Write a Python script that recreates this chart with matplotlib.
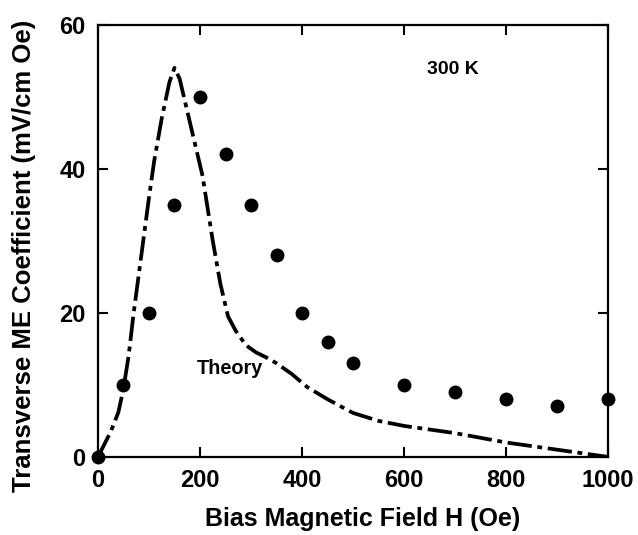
import matplotlib.pyplot as plt

# measured ME coefficient (dots)
field_exp = [0, 50, 100, 150, 200, 250, 300, 350, 400, 450, 500, 600, 700, 800, 900, 1000]
me_exp = [0, 10, 20, 35, 50, 42, 35, 28, 20, 16, 13, 10, 9, 8, 7, 8]

# theory curve
field_th = [0, 10, 25, 40, 50, 60, 70, 85, 100, 110, 125, 140, 150, 160, 170, 185,
            205, 225, 240, 255, 270, 290, 310, 330, 350, 380, 410, 450, 500, 550,
            600, 700, 800, 900, 1000]
me_th = [0, 1.4, 3.5, 6.2, 9.5, 14, 20, 28, 36, 41, 47, 52, 54, 52.5, 49.5, 45,
         39, 30, 24, 19.5, 17.5, 15.5, 14.5, 13.8, 13.0, 11.5, 9.7, 8.0, 6.1, 5.0,
         4.3, 3.3, 2.0, 1.0, 0]

plt.rcParams['font.family'] = 'Liberation Sans'
plt.rcParams['font.weight'] = 'bold'

fig = plt.figure(figsize=(6.38, 5.35), dpi=100)
ax = fig.add_axes([0.1536, 0.146, 0.7994, 0.808])

line, = ax.plot(field_th, me_th, color='black', lw=2.7, zorder=2)
line.set_dashes([6.5, 1.5, 1.3, 1.5])
ax.plot(field_exp, me_exp, 'o', color='black', ms=9, clip_on=False, zorder=3)

ax.set_xlim(0, 1000)
ax.set_ylim(0, 60)
ax.set_xticks([0, 200, 400, 600, 800, 1000])
ax.set_yticks([0, 20, 40, 60])
ax.tick_params(direction='in', length=7, width=1.5, labelsize=17, pad=9,
               top=True, right=True)
for lab in ax.get_xticklabels() + ax.get_yticklabels():
    lab.set_fontweight('bold')
for s in ax.spines.values():
    s.set_linewidth(1.6)

ax.set_xlabel('Bias Magnetic Field H (Oe)', fontsize=18, fontweight='bold')
ax.set_ylabel('Transverse ME Coefficient (mV/cm Oe)', fontsize=18.5, fontweight='bold')
ax.xaxis.set_label_coords(0.518, -0.115)
ax.yaxis.set_label_coords(-0.122, 0.465)

ax.text(696, 53.7, '300 K', fontsize=14, fontweight='bold', ha='center', va='center')
ax.text(258, 12.2, 'Theory', fontsize=14.3, fontweight='bold', ha='center', va='center')

fig.savefig('out.png', dpi=100)
